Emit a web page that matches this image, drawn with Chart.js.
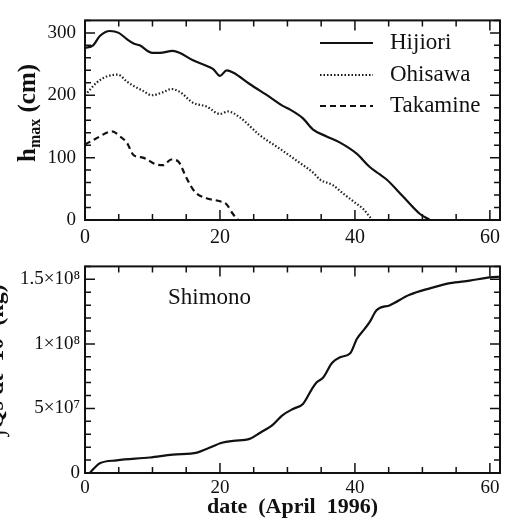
<!DOCTYPE html>
<html>
<head>
<meta charset="utf-8">
<script src="https://cdn.jsdelivr.net/npm/chart.js@4"></script>
<style>
  body { margin: 0; background: #fff; }
  canvas { position: absolute; left: 0; }
  #top { top: 0; }
  #bottom { top: 250px; }
</style>
</head>
<body>
<canvas id="top" width="512" height="250"></canvas>
<canvas id="bottom" width="512" height="274"></canvas>
<script>
// --- data ---
var seriesNames = ["Hijiori", "Ohisawa", "Takamine"];

var hijioriDays = [0, 1.2, 2.2, 3.7, 5, 6.2, 7.2, 8.1, 10, 11.1, 13, 14, 16, 18.5, 19, 20, 21, 22, 24.4, 27.4, 29.3, 30.4, 32.3, 33.8, 35.8, 37.8, 40.3, 42.2, 43.7, 44.7, 47.1, 49.6, 51.1];
var hijioriH = [276, 280, 295, 303, 300, 290, 283, 280, 268, 268, 271, 268, 256, 245, 242, 231, 240, 236, 218, 197, 183, 177, 163, 145, 134, 124, 106, 85, 73, 65, 38, 10, 0];

var ohisawaDays = [0, 1.7, 3.2, 4.9, 6.2, 7.2, 8.6, 9.9, 11.6, 12.8, 14.1, 16, 18, 20, 21.2, 23, 25.9, 28.9, 31.9, 33.8, 34.8, 36.7, 38.2, 40, 41.2, 42.2, 42.6];
var ohisawaH = [200, 220, 230, 233, 222, 215, 207, 200, 205, 210, 205, 188, 182, 170, 174, 164, 136, 114, 91, 76, 65, 56, 43, 28, 18, 5, 0];

var takamineDays = [0, 1.7, 4, 5.2, 6.2, 7.2, 8.6, 10.6, 11.6, 12.8, 13.8, 15.1, 16.3, 18, 20, 21, 21.9, 22.7];
var takamineH = [121, 131, 142, 134, 124, 104, 100, 89, 88, 97, 94, 66, 45, 35, 30, 25, 10, 0];

var shimonoDays = [0.7, 1.5, 2.2, 4.7, 9.6, 13, 16.6, 18.1, 20.3, 22, 24.4, 25.9, 27.9, 29.2, 30.9, 32.3, 33.6, 34.3, 35.3, 36.6, 37.8, 39.3, 40.3, 41.5, 42.2, 43.2, 45.2, 48.1, 51.1, 54.1, 57, 60, 61.5];
var shimonoQ = [0, 4.5e6, 7.5e6, 9.8e6, 1.2e7, 1.43e7, 1.58e7, 1.88e7, 2.34e7, 2.49e7, 2.64e7, 3.1e7, 3.77e7, 4.45e7, 4.98e7, 5.35e7, 6.48e7, 7.01e7, 7.39e7, 8.52e7, 8.97e7, 9.27e7, 1.04e8, 1.12e8, 1.17e8, 1.26e8, 1.3e8, 1.38e8, 1.43e8, 1.47e8, 1.49e8, 1.515e8, 1.52e8];

var xTicks = [0, 20, 40, 60];
var hTicks = [0, 100, 200, 300];
var qTicks = [0, 5e7, 1e8, 1.5e8];
var qTickLabels = ["0", "5×10⁷", "1×10⁸", "1.5×10⁸"];

var SERIF = "'Liberation Serif', 'DejaVu Serif', serif";

function pairs(xs, ys) {
  var out = [];
  for (let i = 0; i < xs.length; i++) out.push({x: xs[i], y: ys[i]});
  return out;
}

// frame + inward ticks on all four sides
function frameTicks(xMinor, xMajor, yMinor, yMajor) {
  return {
    id: "frameTicks",
    afterDraw: function(chart) {
      var ctx = chart.ctx, a = chart.chartArea;
      var xs = chart.scales.x, ys = chart.scales.y;
      ctx.save();
      ctx.strokeStyle = "#111";
      ctx.lineWidth = 2;
      ctx.strokeRect(a.left, a.top, a.right - a.left, a.bottom - a.top);
      ctx.lineWidth = 1.5;
      ctx.beginPath();
      for (let v = xs.min; v <= xs.max + 1e-9; v += xMinor) {
        var px = xs.getPixelForValue(v);
        var len = (Math.abs(v / xMajor - Math.round(v / xMajor)) < 1e-6) ? 10 : 6;
        ctx.moveTo(px, a.bottom); ctx.lineTo(px, a.bottom - len);
        ctx.moveTo(px, a.top); ctx.lineTo(px, a.top + len);
      }
      for (let v = ys.min; v <= ys.max + 1e-9; v += yMinor) {
        var py = ys.getPixelForValue(v);
        var len2 = (Math.abs(v / yMajor - Math.round(v / yMajor)) < 1e-6) ? 10 : 6;
        ctx.moveTo(a.left, py); ctx.lineTo(a.left + len2, py);
        ctx.moveTo(a.right, py); ctx.lineTo(a.right - len2, py);
      }
      ctx.stroke();
      ctx.restore();
    }
  };
}

var topLegend = {
  id: "topLegend",
  afterDraw: function(chart) {
    var ctx = chart.ctx;
    var rows = [43, 75, 106];
    ctx.save();
    chart.data.datasets.forEach(function(ds, i) {
      ctx.strokeStyle = "#111";
      ctx.lineWidth = ds.borderWidth;
      ctx.setLineDash(ds.borderDash || []);
      ctx.beginPath();
      ctx.moveTo(320, rows[i]); ctx.lineTo(373, rows[i]);
      ctx.stroke();
      ctx.setLineDash([]);
      ctx.fillStyle = "#111";
      ctx.font = "23px " + SERIF;
      ctx.textBaseline = "middle";
      ctx.fillText(ds.label, 390, rows[i]);
    });
    // y title: h_max (cm)
    ctx.translate(27, 113);
    ctx.rotate(-Math.PI / 2);
    ctx.textBaseline = "alphabetic";
    ctx.font = "bold 25px " + SERIF;
    var w1 = ctx.measureText("h").width;
    ctx.font = "bold 16px " + SERIF;
    var w2 = ctx.measureText("max").width;
    ctx.font = "bold 25px " + SERIF;
    var w3 = ctx.measureText(" (cm)").width;
    var x0 = -(w1 + w2 + w3) / 2;
    ctx.fillText("h", x0, 8);
    ctx.font = "bold 16px " + SERIF;
    ctx.fillText("max", x0 + w1, 13);
    ctx.font = "bold 25px " + SERIF;
    ctx.fillText(" (cm)", x0 + w1 + w2, 8);
    ctx.restore();
  }
};

var bottomLabels = {
  id: "bottomLabels",
  afterDraw: function(chart) {
    var ctx = chart.ctx;
    ctx.save();
    ctx.fillStyle = "#111";
    ctx.font = "23px " + SERIF;
    ctx.textBaseline = "middle";
    ctx.fillText("Shimono", 168, 48);
    // left title, clipped by the page edge like the scan
    ctx.translate(-3, 110);
    ctx.rotate(-Math.PI / 2);
    ctx.font = "bold 24px " + SERIF;
    ctx.textAlign = "center";
    ctx.fillText("∫Qs dt  10  (kg)", 0, 0);
    ctx.restore();
  }
};

function keepTicks(list) {
  return function(scale) {
    scale.ticks = list.map(function(v) { return {value: v}; });
  };
}

new Chart(document.getElementById("top"), {
  type: "line",
  data: {
    datasets: [{
      label: seriesNames[0],
      data: pairs(hijioriDays, hijioriH),
      borderColor: "#111", borderWidth: 2.2, pointRadius: 0,
      tension: 0.3, cubicInterpolationMode: "monotone"
    }, {
      label: seriesNames[1],
      data: pairs(ohisawaDays, ohisawaH),
      borderColor: "#222", borderWidth: 2.2, borderDash: [1.5, 2], pointRadius: 0,
      tension: 0.3, cubicInterpolationMode: "monotone"
    }, {
      label: seriesNames[2],
      data: pairs(takamineDays, takamineH),
      borderColor: "#111", borderWidth: 2.2, borderDash: [6, 4], pointRadius: 0,
      tension: 0.3, cubicInterpolationMode: "monotone"
    }]
  },
  options: {
    responsive: false,
    animation: false,
    layout: {padding: {top: 9, right: 12, left: 0, bottom: 0}},
    plugins: {legend: {display: false}, tooltip: {enabled: false}},
    scales: {
      x: {
        type: "linear", min: 0, max: 61.5,
        grid: {display: false, drawTicks: false}, border: {display: false},
        afterBuildTicks: keepTicks(xTicks),
        afterFit: function(s) { s.height = 30; },
        ticks: {color: "#111", padding: 6, font: {family: SERIF, size: 20}}
      },
      y: {
        min: 0, max: 320,
        grid: {display: false, drawTicks: false}, border: {display: false},
        afterBuildTicks: keepTicks(hTicks),
        afterFit: function(s) { s.width = 85; },
        ticks: {color: "#111", padding: 9, font: {family: SERIF, size: 19}}
      }
    }
  },
  plugins: [frameTicks(5, 20, 20, 100), topLegend]
});

new Chart(document.getElementById("bottom"), {
  type: "line",
  data: {
    datasets: [{
      label: "Shimono",
      data: pairs(shimonoDays, shimonoQ),
      borderColor: "#111", borderWidth: 2.2, pointRadius: 0,
      tension: 0.3, cubicInterpolationMode: "monotone"
    }]
  },
  options: {
    responsive: false,
    animation: false,
    layout: {padding: {top: 11, right: 12, left: 0, bottom: 0}},
    plugins: {legend: {display: false}, tooltip: {enabled: false}},
    scales: {
      x: {
        type: "linear", min: 0, max: 61.5,
        grid: {display: false, drawTicks: false}, border: {display: false},
        afterBuildTicks: keepTicks(xTicks),
        afterFit: function(s) { s.height = 51; },
        ticks: {color: "#111", padding: 4, font: {family: SERIF, size: 19}},
        title: {
          display: true, text: "date  (April  1996)", color: "#111",
          font: {family: SERIF, size: 22, weight: "bold"},
          padding: {top: 0, bottom: 3}
        }
      },
      y: {
        min: 0, max: 1.6e8,
        grid: {display: false, drawTicks: false}, border: {display: false},
        afterBuildTicks: keepTicks(qTicks),
        afterFit: function(s) { s.width = 85; },
        ticks: {
          color: "#111", padding: 5, font: {family: SERIF, size: 19},
          callback: function(v) { return qTickLabels[qTicks.indexOf(v)]; }
        }
      }
    }
  },
  plugins: [frameTicks(5, 20, 1e7, 5e7), bottomLabels]
});
</script>
</body>
</html>
